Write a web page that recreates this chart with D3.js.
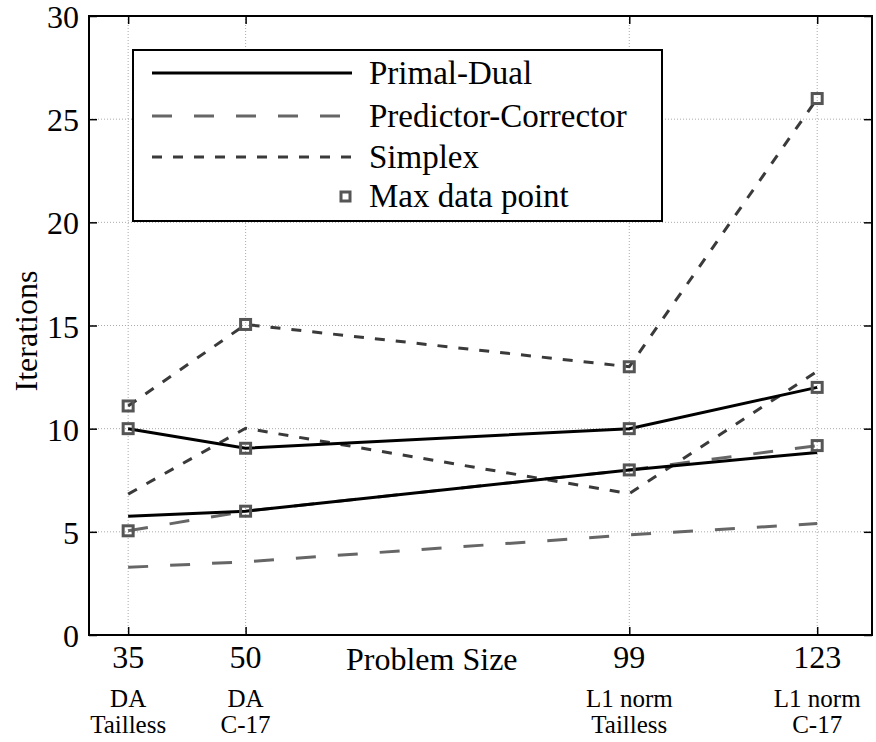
<!DOCTYPE html>
<html>
<head>
<meta charset="utf-8">
<script src="https://cdn.jsdelivr.net/npm/d3@7"></script>
<style>
  body { margin: 0; background: #fff; }
  #graphic text { font-family: "Liberation Serif", "Times New Roman", "DejaVu Serif", serif !important; }
</style>
</head>
<body>
<div id="graphic"></div>
<script>
// problem sizes and their case names
const sizes = [35, 50, 99, 123];
const caseTop = ["DA", "DA", "L1 norm", "L1 norm"];
const caseBottom = ["Tailless", "C-17", "Tailless", "C-17"];
const yTicks = [0, 5, 10, 15, 20, 25, 30];

// iterations: mean and max per method
const primalDualMean = [5.75, 6.0, 8.0, 8.85];
const primalDualMax = [10, 9.05, 10, 12];
const predCorrMean = [3.28, 3.55, 4.85, 5.4];
const predCorrMax = [5.05, 6.0, 8.0, 9.18];
const simplexMean = [6.83, 10.02, 6.85, 12.78];
const simplexMax = [11.1, 15.05, 13.0, 26];

const serif = "Liberation Serif";

const margin = { left: 89, top: 16, right: 4, bottom: 107 };
const W = 876, H = 742;
const width = W - margin.left - margin.right;
const height = H - margin.top - margin.bottom;

const svg = d3.select("#graphic").append("svg")
  .attr("width", W)
  .attr("height", H);

const plot = svg.append("g")
  .attr("transform", `translate(${margin.left},${margin.top})`);

const x = d3.scaleLinear().domain([30, 130]).range([0, width]);
const y = d3.scaleLinear().domain([0, 30]).range([height, 0]);

// grid
const grid = plot.append("g").attr("class", "grid");
grid.selectAll("line.v").data(sizes).enter().append("line")
  .attr("x1", d => x(d)).attr("x2", d => x(d))
  .attr("y1", 0).attr("y2", height)
  .attr("stroke", "#aaa").attr("stroke-width", 1).attr("stroke-dasharray", "1,2");
grid.selectAll("line.h").data(yTicks).enter().append("line")
  .attr("x1", 0).attr("x2", width)
  .attr("y1", d => y(d)).attr("y2", d => y(d))
  .attr("stroke", "#aaa").attr("stroke-width", 1).attr("stroke-dasharray", "1,2");

// axes with inward ticks on every side
function styleAxis(g) {
  g.select(".domain").remove();
  g.selectAll(".tick line").attr("stroke", "#000").attr("stroke-width", 1.5);
  g.selectAll(".tick text").remove();
}
plot.append("g").attr("transform", `translate(0,${height})`)
  .call(d3.axisBottom(x).tickValues(sizes).tickSize(-8)).call(styleAxis);
plot.append("g")
  .call(d3.axisTop(x).tickValues(sizes).tickSize(-8)).call(styleAxis);
plot.append("g")
  .call(d3.axisLeft(y).tickValues(yTicks).tickSize(-8)).call(styleAxis);
plot.append("g").attr("transform", `translate(${width},0)`)
  .call(d3.axisRight(y).tickValues(yTicks).tickSize(-8)).call(styleAxis);

// tick labels
plot.append("g").selectAll("text").data(yTicks).enter().append("text")
  .attr("x", -10).attr("y", d => y(d) + 12)
  .attr("text-anchor", "end").attr("font-size", 32)
  .attr("font-family", serif)
  .text(d => d);

const xl = plot.append("g").selectAll("g").data(sizes).enter().append("g")
  .attr("transform", d => `translate(${x(d)},${height})`);
xl.append("text").attr("y", 33).attr("text-anchor", "middle")
  .attr("font-size", 32).attr("font-family", serif).text(d => d);
xl.append("text").attr("y", 72).attr("text-anchor", "middle")
  .attr("font-size", 25).attr("font-family", serif).text((d, i) => caseTop[i]);
xl.append("text").attr("y", 98).attr("text-anchor", "middle")
  .attr("font-size", 25).attr("font-family", serif).text((d, i) => caseBottom[i]);

plot.append("text")
  .attr("x", 346 - margin.left).attr("y", 670 - margin.top)
  .attr("font-size", 32).attr("font-family", serif).text("Problem Size");

svg.append("text")
  .attr("transform", `translate(37,331) rotate(-90)`)
  .attr("text-anchor", "middle").attr("font-size", 32)
  .attr("font-family", serif).text("Iterations");

// data lines
const line = d3.line().x((d, i) => x(sizes[i])).y(d => y(d));
const styles = {
  pd: { stroke: "#000", dash: null },
  pc: { stroke: "#666", dash: "20,22" },
  sx: { stroke: "#3a3a3a", dash: "10,11" }
};
const series = [
  { vals: predCorrMean, s: styles.pc, marks: false },
  { vals: predCorrMax, s: styles.pc, marks: true },
  { vals: simplexMean, s: styles.sx, marks: false },
  { vals: simplexMax, s: styles.sx, marks: true },
  { vals: primalDualMean, s: styles.pd, marks: false },
  { vals: primalDualMax, s: styles.pd, marks: true }
];
const lines = plot.append("g").attr("class", "lines");
series.forEach(function(sr) {
  lines.append("path")
    .attr("d", line(sr.vals))
    .attr("fill", "none")
    .attr("stroke", sr.s.stroke)
    .attr("stroke-width", 3)
    .attr("stroke-dasharray", sr.s.dash);
});
series.filter(sr => sr.marks).forEach(function(sr) {
  lines.selectAll(null).data(sr.vals).enter().append("rect")
    .attr("x", (d, i) => x(sizes[i]) - 5)
    .attr("y", d => y(d) - 5)
    .attr("width", 10).attr("height", 10)
    .attr("fill", "none")
    .attr("stroke", "#555").attr("stroke-width", 3);
});

// frame
plot.append("rect")
  .attr("width", width).attr("height", height)
  .attr("fill", "none").attr("stroke", "#000").attr("stroke-width", 2);

// legend
const legend = svg.append("g").attr("class", "legend");
legend.append("rect")
  .attr("x", 133).attr("y", 50).attr("width", 529).attr("height", 171)
  .attr("fill", "#fff").attr("stroke", "#000").attr("stroke-width", 2);
const legendItems = [
  { label: "Primal-Dual", s: styles.pd, y: 73 },
  { label: "Predictor-Corrector", s: styles.pc, y: 116 },
  { label: "Simplex", s: styles.sx, y: 157 }
];
legendItems.forEach(function(it) {
  legend.append("line")
    .attr("x1", 152).attr("x2", 352).attr("y1", it.y).attr("y2", it.y)
    .attr("stroke", it.s.stroke).attr("stroke-width", 3)
    .attr("stroke-dasharray", it.s.dash);
  legend.append("text").attr("x", 369).attr("y", it.y + 11)
    .attr("font-size", 33).attr("font-family", serif).text(it.label);
});
legend.append("rect")
  .attr("x", 341).attr("y", 192).attr("width", 9).attr("height", 9)
  .attr("fill", "#fff").attr("stroke", "#555").attr("stroke-width", 3);
legend.append("text").attr("x", 369).attr("y", 207)
  .attr("font-size", 33).attr("font-family", serif).text("Max data point");
</script>
</body>
</html>
